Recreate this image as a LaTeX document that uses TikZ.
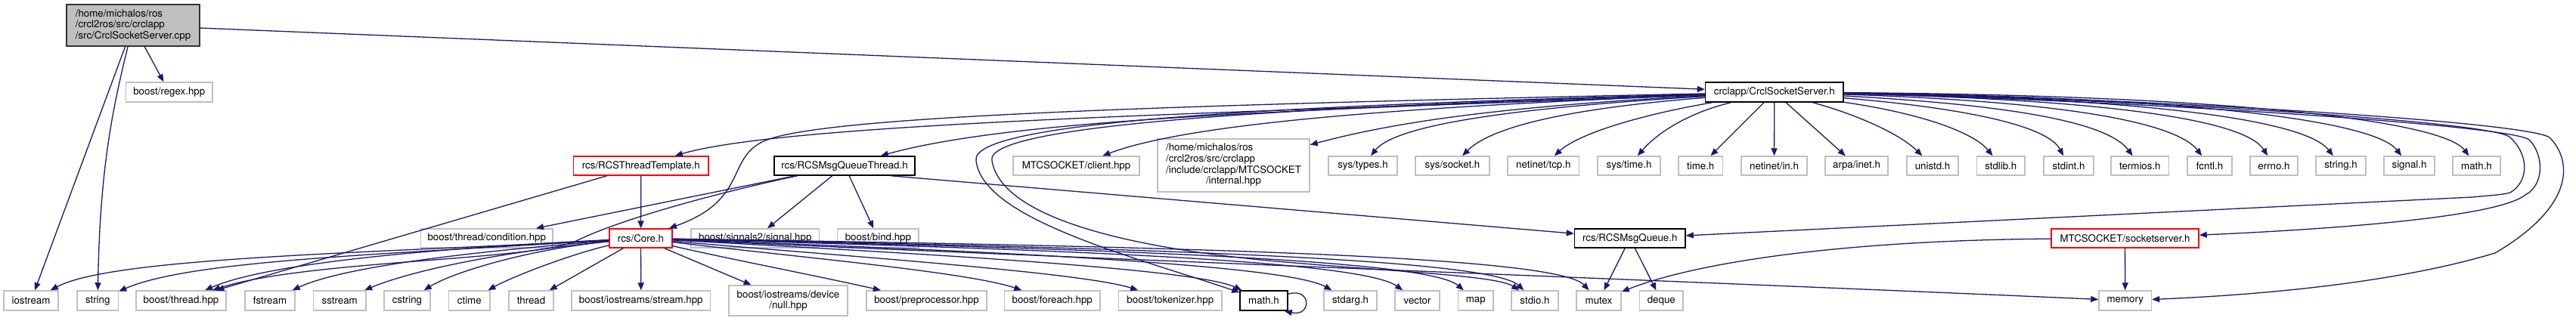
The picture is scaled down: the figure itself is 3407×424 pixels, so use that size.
\documentclass[tikz,border=0pt]{standalone}
\usepackage{fontspec}
\setmainfont{TeX Gyre Heros}
\usetikzlibrary{arrows.meta,calc}
\definecolor{edgec}{HTML}{191970}
\definecolor{greyb}{HTML}{BFBFBF}
\tikzset{
 base/.style={rectangle, inner sep=0pt, line width=1.5pt, font=\fontsize{13.3}{14.7}\selectfont, text=black},
 ext/.style={base, draw=greyb},
 docn/.style={base, draw=black},
 trunc/.style={base, draw=red},
 rootn/.style={base, draw=black!80, fill=greyb},
 edg/.style={draw=edgec, line width=1.3pt, -{Triangle[length=10pt,width=8pt]}},
}
\newcommand\mybox[7]{\node[#6, minimum width={(#3)-(#2)}, minimum height={(#5)-(#4)}] (#1) at ({((#2)+(#3))/2},{((#4)+(#5))/2}) {#7};}
\begin{document}
\begin{tikzpicture}[x=1pt,y=-1pt]
\useasboundingbox (0,0) rectangle (3407,424);
% row A/B
\mybox{root}{88}{264}{6}{61}{rootn,align=left}{/home/michalos/ros\\/crcl2ros/src/crclapp\\/src/CrclSocketServer.cpp}
\mybox{regex}{166.5}{281}{109}{135}{ext}{boost/regex.hpp}
\mybox{cssh}{2255.5}{2438}{109}{135}{docn}{crclapp/CrclSocketServer.h}
% row C
\mybox{tmpl}{758.6}{937}{207}{232}{trunc}{rcs/RCSThreadTemplate.h}
\mybox{mqt}{1024}{1210}{207}{232}{docn}{rcs/RCSMsgQueueThread.h}
\mybox{client}{1340}{1507}{207}{232}{ext}{MTCSOCKET/client.hpp}
\mybox{intern}{1531}{1732}{184}{254}{ext}{\begin{tabular}{@{}l@{}}/home/michalos/ros\\/crcl2ros/src/crclapp\\/include/crclapp/MTCSOCKET\\\multicolumn{1}{@{}c@{}}{/internal.hpp}\end{tabular}}
\mybox{types}{1757}{1848}{207}{232}{ext}{sys/types.h}
\mybox{socket}{1872}{1970}{207}{232}{ext}{sys/socket.h}
\mybox{tcp}{1994}{2088.6}{207}{232}{ext}{netinet/tcp.h}
\mybox{systime}{2113}{2196}{207}{232}{ext}{sys/time.h}
\mybox{timeh}{2220}{2278.5}{207}{232}{ext}{time.h}
\mybox{inh}{2303}{2390}{207}{232}{ext}{netinet/in.h}
\mybox{inet}{2414}{2497}{207}{232}{ext}{arpa/inet.h}
\mybox{unistd}{2522}{2590}{207}{232}{ext}{unistd.h}
\mybox{stdlib}{2614.5}{2678}{207}{232}{ext}{stdlib.h}
\mybox{stdint}{2703}{2769}{207}{232}{ext}{stdint.h}
\mybox{termios}{2792}{2868.6}{207}{232}{ext}{termios.h}
\mybox{fcntl}{2893}{2952}{207}{232}{ext}{fcntl.h}
\mybox{errno}{2976}{3039}{207}{232}{ext}{errno.h}
\mybox{stringh}{3063}{3129}{207}{232}{ext}{string.h}
\mybox{signalh}{3153}{3220}{207}{232}{ext}{signal.h}
\mybox{mathsys}{3244}{3307}{207}{232}{ext}{math.h}
% row D
\mybox{cond}{556.5}{731}{303}{328}{ext}{boost/thread/condition.hpp}
\mybox{core}{806}{889}{303}{328}{trunc}{rcs/Core.h}
\mybox{sig}{914}{1083.5}{303}{328}{ext}{boost/signals2/signal.hpp}
\mybox{bind}{1107.7}{1215}{303}{328}{ext}{boost/bind.hpp}
\mybox{msgq}{2082.5}{2229}{303}{328}{docn}{rcs/RCSMsgQueue.h}
\mybox{sock}{2713}{2908}{303}{328}{trunc}{MTCSOCKET/socketserver.h}
% row E
\mybox{iostr}{5}{77}{385}{411}{ext}{iostream}
\mybox{strg}{102}{156.5}{385}{411}{ext}{string}
\mybox{bthr}{180}{299}{385}{411}{ext}{boost/thread.hpp}
\mybox{fstr}{324}{390}{385}{411}{ext}{fstream}
\mybox{sstr}{414.5}{484}{385}{411}{ext}{sstream}
\mybox{cstr}{508}{569}{385}{411}{ext}{cstring}
\mybox{ctim}{593.6}{648}{385}{411}{ext}{ctime}
\mybox{thr}{673}{732}{385}{411}{ext}{thread}
\mybox{strm}{756}{939.6}{385}{411}{ext}{boost/iostreams/stream.hpp}
\mybox{nul}{964}{1121}{378}{418}{ext,align=center}{boost/iostreams/device\\/null.hpp}
\mybox{prep}{1146}{1305}{385}{411}{ext}{boost/preprocessor.hpp}
\mybox{fore}{1328.5}{1455}{385}{411}{ext}{boost/foreach.hpp}
\mybox{tok}{1479.6}{1616}{385}{411}{ext}{boost/tokenizer.hpp}
\mybox{mathh}{1640}{1703}{385}{411}{docn}{math.h}
\mybox{starg}{1751}{1821}{385}{411}{ext}{stdarg.h}
\mybox{vect}{1845}{1904}{385}{411}{ext}{vector}
\mybox{mapn}{1928.6}{1975}{385}{411}{ext}{map}
\mybox{stdio}{1999}{2061}{385}{411}{ext}{stdio.h}
\mybox{mutx}{2085}{2144}{385}{411}{ext}{mutex}
\mybox{deq}{2168.6}{2226}{385}{411}{ext}{deque}
\mybox{mem}{2776}{2845.5}{385}{411}{ext}{memory}
% root edges
\draw[edg] (root) -- (cssh);
\draw[edg] (root) -- (regex);
\draw[edg] (root) -- (iostr);
\draw[edg] (root) .. controls (150,140) and (132,220) .. (strg);
% cssh to row C (left)
\draw[edg] (cssh) .. controls (1700,148) and (1050,160) .. (tmpl);
\draw[edg] (cssh) .. controls (1500,140) and (1080,155) .. (1010,187) .. controls (960,210) and (990,265) .. (core);
\draw[edg] (cssh) .. controls (1750,145) and (1350,155) .. (mqt);
\draw[edg] (cssh) .. controls (1900,140) and (1580,160) .. (client);
\draw[edg] (cssh) .. controls (2000,140) and (1850,160) .. (intern);
\draw[edg] (cssh) .. controls (2050,140) and (1850,160) .. (types);
\draw[edg] (cssh) .. controls (2120,140) and (1980,160) .. (socket);
\draw[edg] (cssh) .. controls (2180,150) and (2090,175) .. (tcp);
\draw[edg] (cssh) .. controls (2230,150) and (2190,178) .. (systime);
\draw[edg] (cssh) -- (timeh);
\draw[edg] (cssh) -- (inh);
\draw[edg] (cssh) -- (inet);
% cssh to row C (right)
\draw[edg] (cssh) .. controls (2450,150) and (2510,175) .. (unistd);
\draw[edg] (cssh) .. controls (2540,150) and (2610,175) .. (stdlib);
\draw[edg] (cssh) .. controls (2620,145) and (2710,170) .. (stdint);
\draw[edg] (cssh) .. controls (2680,140) and (2790,165) .. (termios);
\draw[edg] (cssh) .. controls (2750,135) and (2880,165) .. (fcntl);
\draw[edg] (cssh) .. controls (2800,132) and (2970,160) .. (errno);
\draw[edg] (cssh) .. controls (2850,130) and (3050,160) .. (stringh);
\draw[edg] (cssh) .. controls (2900,128) and (3140,160) .. (signalh);
\draw[edg] (cssh) .. controls (2950,126) and (3230,160) .. (mathsys);
% cssh loops on the right
\draw[edg] (cssh) .. controls (2800,130) and (3300,160) .. (3320,182) .. controls (3345,205) and (3345,240) .. (3320,255) .. controls (3310,258) and (3290,259) .. (3270,261) -- (msgq);
\draw[edg] (cssh) .. controls (2800,132) and (3320,165) .. (3345,185) .. controls (3365,205) and (3365,245) .. (3340,258) .. controls (3300,290) and (3050,305) .. (sock);
\draw[edg] (cssh) .. controls (2800,128) and (3340,160) .. (3372,182) .. controls (3400,210) and (3410,270) .. (3300,335) .. controls (3150,380) and (2950,392) .. (mem);
% cssh down to bottom row
\draw[edg] (cssh) .. controls (1700,140) and (1280,160) .. (1291,213) .. controls (1300,290) and (1500,340) .. (mathh);
\draw[edg] (cssh) .. controls (1700,142) and (1300,165) .. (1312,213) .. controls (1325,290) and (1500,330) .. (1700,347) .. controls (1850,360) and (1980,365) .. (stdio);
% RCSThreadTemplate
\draw[edg] (tmpl) -- (core);
\draw[edg] (tmpl) -- (bthr);
% RCSMsgQueueThread
\draw[edg] (mqt) -- (cond);
\draw[edg] (mqt) -- (sig);
\draw[edg] (mqt) -- (bind);
\draw[edg] ([xshift=61pt]mqt.south) -- (msgq);
\draw[edg] (mqt) .. controls (950,255) and (820,290) .. (760,320) .. controls (700,345) and (400,345) .. (bthr);
% Core.h left
\draw[edg] (core) .. controls (500,335) and (150,340) .. (iostr);
\draw[edg] (core) .. controls (500,337) and (250,345) .. (strg);
\draw[edg] (core) .. controls (550,330) and (350,350) .. (bthr);
\draw[edg] (core) .. controls (600,335) and (450,355) .. (fstr);
\draw[edg] (core) .. controls (650,335) and (540,360) .. (sstr);
\draw[edg] (core) .. controls (700,330) and (600,360) .. (cstr);
\draw[edg] (core) .. controls (760,335) and (680,365) .. (ctim);
\draw[edg] (core) -- (thr);
\draw[edg] (core) -- (strm);
\draw[edg] (core) -- (nul);
% Core.h right
\draw[edg] (core) .. controls (950,340) and (1080,365) .. (prep);
\draw[edg] (core) .. controls (1050,340) and (1280,360) .. (fore);
\draw[edg] (core) .. controls (1100,338) and (1430,360) .. (tok);
\draw[edg] (core) .. controls (1200,335) and (1580,355) .. (mathh);
\draw[edg] (core) .. controls (1300,332) and (1700,350) .. (starg);
\draw[edg] (core) .. controls (1400,330) and (1800,345) .. (vect);
\draw[edg] (core) .. controls (1500,330) and (1890,345) .. (mapn);
\draw[edg] (core) .. controls (1500,328) and (1970,342) .. (stdio);
\draw[edg] (core) .. controls (1600,327) and (2060,340) .. (mutx);
\draw[edg] (core) .. controls (1500,345) and (2300,375) .. (mem);
% math.h self loop
\draw[edg] ($(mathh.north east)+(0,5)$) .. controls (1735,380) and (1735,420) .. ($(mathh.south east)+(-5,0)$);
% RCSMsgQueue.h
\draw[edg] (msgq) -- (mutx);
\draw[edg] (msgq) -- (deq);
% socketserver.h
\draw[edg] (sock) .. controls (2450,318) and (2250,345) .. (mutx);
\draw[edg] (sock) -- (mem);
\end{tikzpicture}
\end{document}
